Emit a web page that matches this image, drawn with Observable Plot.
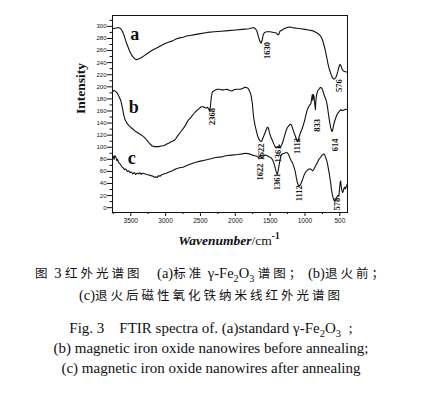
<!DOCTYPE html>
<html><head><meta charset="utf-8">
<script src="https://cdn.jsdelivr.net/npm/d3@7"></script>
<script src="https://cdn.jsdelivr.net/npm/@observablehq/plot@0.6"></script>
<style>
body{margin:0;background:#fff;width:422px;}
#cap{width:422px;text-align:center;color:#111;}
.zh{font-family:"Noto Sans CJK SC";font-size:12.5px;line-height:22px;letter-spacing:3px;white-space:nowrap;}
.zh .l{font-family:"Liberation Serif";font-size:14.5px;letter-spacing:0;}
.en{font-family:"Liberation Serif";font-size:15px;line-height:20px;white-space:nowrap;}
sub{font-size:0.7em;line-height:0;}
</style></head><body>
<div id="chart"></div>
<div id="cap">
<div class="zh" style="margin-top:10px">图<span class="l"> 3 </span> 红外光谱图<span class="l">&nbsp;&nbsp;&nbsp;&nbsp;(a)</span>标准<span class="l"> γ-Fe<sub>2</sub>O<sub>3</sub> </span>谱图；<span class="l">&nbsp;(b)</span>退火前；</div>
<div class="zh"><span class="l">(c)</span>退火后磁性氧化铁纳米线红外光谱图</div>
<div class="en" style="margin-top:12px">Fig. 3 &nbsp;&nbsp; FTIR spectra of. (a)standard γ-Fe<sub>2</sub>O<sub>3</sub> &nbsp;;</div>
<div class="en">(b) magnetic iron oxide nanowires before annealing;</div>
<div class="en">(c) magnetic iron oxide nanowires after annealing</div>
</div>
<script>
// Curve a: standard gamma-Fe2O3
const aX = [3762,3720,3680,3650,3620,3596,3560,3520,3480,3440,3414,3390,3350,3300,3250,3200,3150,3100,3050,3000,2950,2900,2850,2800,2750,2700,2650,2600,2500,2400,2300,2200,2100,2000,1900,1800,1740,1710,1690,1670,1650,1630,1615,1600,1580,1550,1500,1450,1410,1390,1375,1360,1330,1300,1260,1220,1180,1120,1060,1000,950,900,870,840,800,770,750,730,710,690,670,650,630,610,590,575,560,545,530,515,500,485,470,450,420,390];
const aY = [296,297,298,297,292,285,272,260,251,246,245,246,248,252,256,260,263,266,269,272,274,276,279,281,282,284,285,286,288,290,291,292,293,294,295,296,298,296,292,284,276,272,277,286,290,291,291,290,289,286,287,292,294,296,298,299,298,297,296,295,294,293,292,290,287,283,278,270,261,250,238,229,222,216,213,213,215,219,225,232,237,235,230,226,225,224];
// Curve b: before annealing
const bX = [3762,3740,3715,3690,3660,3640,3620,3600,3580,3550,3520,3480,3440,3400,3360,3320,3285,3250,3220,3190,3160,3140,3100,3060,3020,2990,2950,2920,2880,2855,2820,2780,2740,2712,2680,2640,2600,2560,2520,2490,2460,2430,2400,2380,2368,2358,2345,2330,2300,2260,2230,2200,2160,2120,2080,2050,2020,1990,1960,1930,1900,1870,1850,1820,1800,1780,1765,1755,1740,1720,1700,1680,1660,1640,1622,1600,1580,1560,1540,1525,1510,1490,1470,1450,1430,1410,1395,1380,1370,1361,1350,1330,1310,1290,1270,1250,1230,1210,1195,1180,1160,1140,1125,1112,1100,1085,1065,1040,1010,990,970,950,930,915,905,895,888,880,872,860,850,845,835,820,800,780,760,745,730,710,690,675,660,645,630,620,610,600,590,575,560,545,530,510,490,470,450,420,390];
const bY = [192,194,192,189,182,176,165,153,145,139,135,131,127,124,121,118,114,109,105,102,101,101,101,102,103,105,107,109,111,114,120,126,132,137,144,149,155,160,164,167,167,165,166,163,160,167,182,191,194,196,196,195,195,196,194,193,195,196,196,196,197,199,199,198,194,189,180,172,152,138,128,119,113,110,110,116,122,128,133,132,124,117,112,106,101,100,101,99,104,99,101,105,112,120,128,133,136,138,137,132,125,119,114,109,110,117,124,131,142,152,161,167,170,172,180,187,178,187,185,172,162,175,186,193,196,199,198,194,188,182,175,165,152,141,132,128,126,130,136,143,148,153,156,159,162,161,161,163,162];
// Curve c: after annealing
const cX = [3762,3750,3740,3730,3715,3700,3690,3670,3650,3630,3610,3590,3570,3550,3530,3510,3490,3470,3450,3430,3410,3390,3370,3350,3330,3300,3270,3240,3210,3180,3160,3140,3120,3100,3080,3050,3020,2990,2950,2900,2855,2800,2750,2712,2650,2600,2568,2500,2425,2350,2282,2200,2138,2050,1960,1900,1850,1800,1756,1720,1690,1661,1640,1622,1600,1570,1541,1510,1490,1469,1450,1430,1415,1400,1390,1375,1360,1345,1326,1300,1280,1254,1235,1215,1200,1182,1160,1140,1125,1110,1095,1080,1065,1050,1030,1016,1000,985,965,944,920,900,887,870,849,820,800,777,755,730,715,700,681,665,650,633,620,605,590,578,565,550,530,514,505,495,488,480,470,460,450,440,430,418,405,390];
const cY = [82,85,80,86,84,78,80,74,72,68,66,63,64,60,61,58,59,56,58,55,57,56,58,55,57,56,55,54,53,52,50,51,50,53,52,55,56,57,59,61,64,66,67,69,72,74,75,77,79,81,83,84,86,87,88,89,90,89,87,86,85,83,86,82,85,87,86,84,83,80,75,67,60,55,58,68,78,86,89,90,91,91,88,82,78,75,68,60,50,42,37,36,38,42,48,53,57,60,62,64,64,62,61,64,69,75,80,83,87,89,87,82,75,65,55,42,30,20,14,11,12,16,20,19,30,42,44,35,28,25,28,32,34,31,36,40];

// Peak annotations
const peakText = ["1630","576","2368","833","614","1622","1361","1112","1622","1361","1112","578"];
const peakX = [1537,512,2325,820,562,1622,1386,1113,1644,1400,1082,537];
const peakY = [260,202,151,136,104,92,89,102,59,43,24,6];
// Curve names
const curveText = ["a","b","c"];
const curveX = [3443,3457,3486];
const curveY = [287,166,81];
// Axes
const xTicks = [3500,3000,2500,2000,1500,1000,500];
const xMinor = [3750,3250,2750,2250,1750,1250,750];
const yTicks = [0,20,40,60,80,100,120,140,160,180,200,220,240,260,280,300];
const yMinor = [10,30,50,70,90,110,130,150,170,190,210,230,250,270,290,310];

const mk = (X, Y) => X.map((x, i) => ({x, y: Y[i]}));
const A = mk(aX, aY), B = mk(bX, bY), C = mk(cX, cY);
const peaks = peakText.map((t, i) => ({t, x: peakX[i], y: peakY[i]}));
const names = curveText.map((t, i) => ({t, x: curveX[i], y: curveY[i]}));

const chart = Plot.plot({
  width: 422, height: 252,
  marginLeft: 112, marginRight: 75, marginTop: 15, marginBottom: 40,
  x: {domain: [3762, 390]},
  y: {domain: [-8, 318]},
  style: {fontFamily: "Liberation Sans", fontSize: "6px", background: "white", color: "#111"},
  marks: [
    Plot.axisX({ticks: xTicks, tickSize: 4, tickPadding: 2, fontSize: 6.5, label: null, tickFormat: d3.format("d")}),
    Plot.axisX({ticks: xMinor, tickSize: 2, tickFormat: () => "", label: null}),
    Plot.axisY({ticks: yTicks, tickSize: 5, tickPadding: 1, fontSize: 6, label: null}),
    Plot.axisY({ticks: yMinor, tickSize: 2.5, tickFormat: () => "", label: null}),
    Plot.line(A, {x: "x", y: "y", stroke: "#111", strokeWidth: 1.1}),
    Plot.line(B, {x: "x", y: "y", stroke: "#111", strokeWidth: 1.1}),
    Plot.line(C, {x: "x", y: "y", stroke: "#111", strokeWidth: 1.1}),
    Plot.text(peaks, {x: "x", y: "y", text: "t", rotate: -90, fontFamily: "Liberation Serif", fontWeight: "bold", fontSize: 8.5, fill: "#111"}),
    Plot.text(names, {x: "x", y: "y", text: "t", fontFamily: "Liberation Serif", fontWeight: "bold", fontSize: 18, fill: "#111"}),
    Plot.text(["Intensity"], {frameAnchor: "left", dx: -32, rotate: -90, fontFamily: "Liberation Serif", fontWeight: "bold", fontSize: 13.5, fill: "#111"}),
    Plot.frame({stroke: "#111", strokeWidth: 1})
  ]
});
document.getElementById("chart").appendChild(chart);
const svg = d3.select(chart);
const t = svg.append("text").attr("x", 229).attr("y", 245).attr("text-anchor", "middle")
  .attr("font-family", "Liberation Serif").attr("font-size", 13.5).attr("fill", "#111");
t.append("tspan").attr("font-weight", "bold").attr("font-style", "italic").text("Wavenumber");
t.append("tspan").text("/cm");
t.append("tspan").attr("font-weight", "bold").attr("font-size", 9.5).attr("dy", -6).text("-1");
</script>
</body></html>
